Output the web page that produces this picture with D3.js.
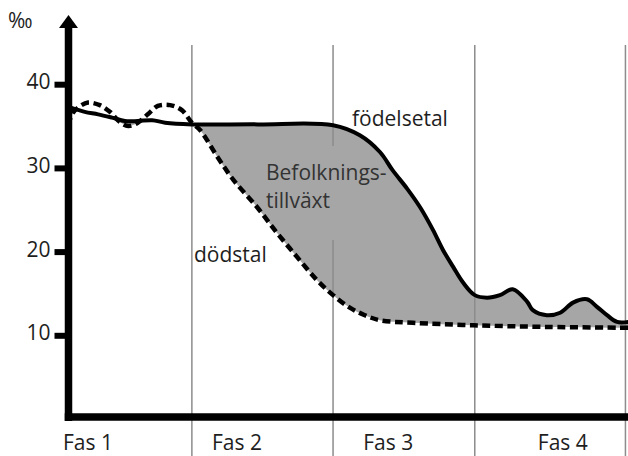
<!DOCTYPE html>
<html>
<head>
<meta charset="utf-8">
<script src="https://cdn.jsdelivr.net/npm/d3@7"></script>
<style>
  body { margin: 0; background: #fff; }
  svg { display: block; font-family: "Open Sans", sans-serif; }
  .lbl { font-size: 21px; fill: #1e1e1e; }
</style>
</head>
<body>
<svg id="chart" width="628" height="456"></svg>
<script>
// phases (time in arbitrary units 0..100)
var phaseNames = ["Fas 1", "Fas 2", "Fas 3", "Fas 4"];
var phaseLabelAt = [-0.9, 25.8, 52.9, 84.2];
var phaseEnds = [22.2, 47.5, 72.9, 99.9];
var yTicks = [10, 20, 30, 40];

// födelsetal (per mille)
var birthT = [0.5, 3.0, 5.4, 7.9, 10.2, 12.5, 15.1, 17.4, 22.2, 34.0, 47.5, 52.3, 55.9, 58.2, 60.8, 63.1, 65.4, 67.2, 69.0, 70.8, 72.9, 75.1, 77.4, 79.7, 82.3, 83.3, 85.8, 88.2, 90.5, 93.0, 94.8, 96.6, 98.4, 100.4];
var birthV = [37.2, 36.7, 36.4, 36.0, 35.6, 35.6, 35.7, 35.4, 35.2, 35.2, 35.1, 33.9, 31.9, 29.7, 27.5, 25.3, 22.6, 20.2, 18.2, 16.3, 14.8, 14.5, 14.8, 15.5, 14.0, 13.0, 12.4, 12.7, 13.9, 14.3, 13.4, 12.4, 11.6, 11.6];

// dödstal (per mille)
var deathT = [0, 0.9, 2.2, 3.6, 5.7, 7.5, 9.3, 10.8, 12.5, 14.3, 16.1, 18.3, 20.4, 22.2, 23.7, 26.7, 29.6, 33.9, 37.5, 41.0, 44.6, 47.5, 50.5, 53.2, 55.9, 61.8, 72.6, 85.8, 100.4];
var deathV = [35.1, 36.6, 37.4, 37.8, 37.5, 36.7, 35.5, 35.0, 35.4, 36.4, 37.4, 37.5, 36.9, 35.4, 34.5, 31.4, 28.6, 25.3, 22.2, 19.4, 16.6, 14.8, 13.3, 12.4, 11.8, 11.5, 11.2, 11.0, 10.9];

var svg = d3.select("#chart");
var W = 628, H = 456;

var x = d3.scaleLinear().domain([0, 100]).range([68, 626]);
var y = d3.scaleLinear().domain([0, 40]).range([419, 84.2]);

var birth = birthT.map(function (t, i) { return [t, birthV[i]]; });
var death = deathT.map(function (t, i) { return [t, deathV[i]]; });

var line = d3.line()
  .x(function (d) { return x(d[0]); })
  .y(function (d) { return y(d[1]); })
  .curve(d3.curveCatmullRom.alpha(0.5));

// fill only where birth rate is above death rate
var tMax = d3.max(birthT.concat(deathT));
svg.append("clipPath").attr("id", "aboveDeath")
  .append("path")
  .attr("d", line(death) + "L" + x(tMax) + ",0L" + x(0) + ",0Z");

svg.append("path")
  .attr("d", line(birth) + "L" + x(tMax) + "," + y(0) + "L" + x(birthT[0]) + "," + y(0) + "Z")
  .attr("fill", "#a6a6a6")
  .attr("clip-path", "url(#aboveDeath)");

// phase separators
svg.selectAll("line.phase")
  .data(phaseEnds)
  .enter().append("line")
  .attr("class", "phase")
  .attr("x1", function (d) { return x(d); })
  .attr("x2", function (d) { return x(d); })
  .attr("y1", 45)
  .attr("y2", H)
  .attr("stroke", "#8c8c8c")
  .attr("stroke-width", 1.5);

// label inside the filled area, hides the separator behind it
var growth = svg.append("g");
var gt = growth.append("text").attr("class", "lbl").style("fill", "#333");
gt.append("tspan").attr("x", 266).attr("y", 180).text("Befolknings-");
gt.append("tspan").attr("x", 266).attr("y", 208).text("tillväxt");
var bb = gt.node().getBBox();
growth.insert("rect", "text")
  .attr("x", x(phaseEnds[1]) - 3).attr("y", bb.y - 12)
  .attr("width", 6).attr("height", bb.height + 38)
  .attr("fill", "#a6a6a6");

// axes
var axisX = 68.5;
svg.append("line")
  .attr("x1", axisX).attr("x2", axisX)
  .attr("y1", 24).attr("y2", 421)
  .attr("stroke", "#000").attr("stroke-width", 7.5);
svg.append("path")
  .attr("d", "M" + axisX + ",15L" + (axisX + 9.5) + ",28L" + (axisX - 9.5) + ",28Z")
  .attr("fill", "#000");
svg.append("line")
  .attr("x1", axisX - 3.75).attr("x2", W)
  .attr("y1", 417).attr("y2", 417)
  .attr("stroke", "#000").attr("stroke-width", 7.5);

var yAxis = svg.append("g")
  .attr("transform", "translate(" + (axisX - 3) + ",0)")
  .call(d3.axisLeft(y).tickValues(yTicks).tickSize(11).tickPadding(4));
yAxis.select(".domain").remove();
yAxis.selectAll("line").attr("stroke", "#000").attr("stroke-width", 6);
yAxis.selectAll("text")
  .attr("font-family", "'Open Sans', sans-serif")
  .attr("font-size", 21)
  .attr("fill", "#1e1e1e")
  .attr("dy", "0.22em");

// curves
svg.append("path")
  .attr("d", line(death))
  .attr("fill", "none")
  .attr("stroke", "#000")
  .attr("stroke-width", 4.5)
  .attr("stroke-dasharray", "8,4.5");

svg.append("path")
  .attr("d", line(birth))
  .attr("fill", "none")
  .attr("stroke", "#000")
  .attr("stroke-width", 4)
  .attr("stroke-linejoin", "round");

// phase labels
svg.selectAll("text.phase")
  .data(phaseNames)
  .enter().append("text")
  .attr("class", "lbl phase")
  .attr("x", function (d, i) { return x(phaseLabelAt[i]); })
  .attr("y", 450)
  .text(function (d) { return d; });

svg.append("text").attr("class", "lbl").attr("x", 8).attr("y", 28).text("‰");
svg.append("text").attr("class", "lbl").attr("x", 352).attr("y", 126).text("födelsetal");
svg.append("text").attr("class", "lbl").attr("x", 194).attr("y", 262).text("dödstal");
</script>
</body>
</html>
